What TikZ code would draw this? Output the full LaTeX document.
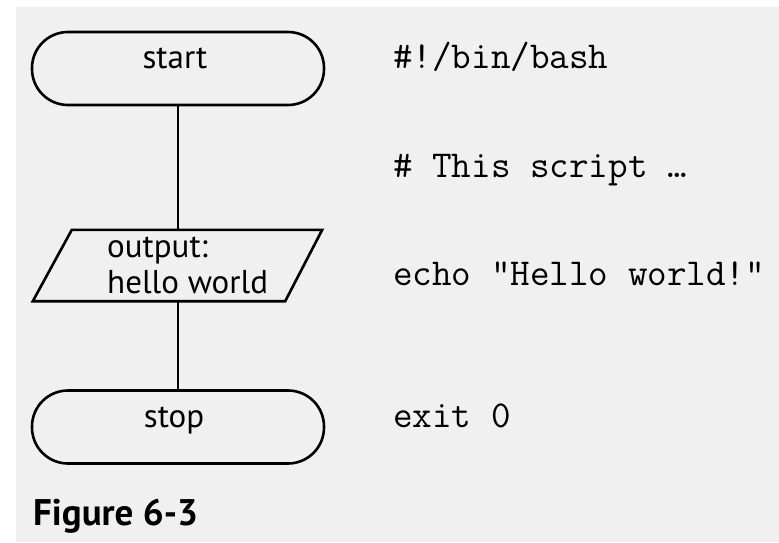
\documentclass[tikz,border=0pt]{standalone}
\usepackage{fontspec}
\setmainfont{PT Sans}
\definecolor{paper}{HTML}{F0F0F0}
\tikzset{
  terminal/.style={draw=black, line width=2.6pt, rounded corners=36pt,
    minimum width=292pt, minimum height=73pt, inner sep=0pt},
  iobox/.style={draw=none, minimum width=289pt, minimum height=71pt, inner sep=0pt},
  outline/.style={draw=black, line width=2.6pt, line join=miter},
  flowtext/.style={anchor=base, inner sep=0pt, font=\fontsize{33}{36}\selectfont},
  codetext/.style={anchor=base west, inner sep=0pt, font=\ttfamily\addfontfeature{FakeBold=0.8}\fontsize{38}{40}\selectfont},
  link/.style={draw=black, line width=2.6pt},
}
\begin{document}
\begin{tikzpicture}[x=1pt, y=-1pt]
\useasboundingbox (0,0) rectangle (779,542);
\fill[white] (0,0) rectangle (779,542);
\fill[paper] (16,7) rectangle (779,542);
\node[terminal] (start) at (178,68.5) {};
\node[flowtext] (starttxt) at (175,68) {start};
\node[iobox] (out) at (177.5,265.5) {};
\draw[outline] (out.south west) -- ([xshift=-37pt]out.south east) -- (out.north east)
  -- ([xshift=39pt]out.north west) -- cycle;
\node[flowtext, anchor=base west] (outtxt1) at (107,257) {output:};
\node[flowtext, anchor=base west] (outtxt2) at (107,293) {hello world};
\node[terminal] (stop) at (178,427) {};
\node[flowtext] (stoptxt) at (174,427) {stop};
\draw[link] (start.south) -- (start.south |- out.north);
\draw[link] (out.south -| stop.north) -- (stop.north);
\node[codetext] (c1) at (393,68) {\#!/bin/bash};
\node[codetext] (c2) at (393,177) {\# This script …};
\node[codetext] (c3) at (393,285) {echo "Hello world!"};
\node[codetext] (c4) at (393,427) {exit 0};
\node[anchor=base west, inner sep=0pt, font=\bfseries\fontsize{37}{40}\selectfont] (fig) at (33,525) {Figure 6-3};
\end{tikzpicture}
\end{document}
